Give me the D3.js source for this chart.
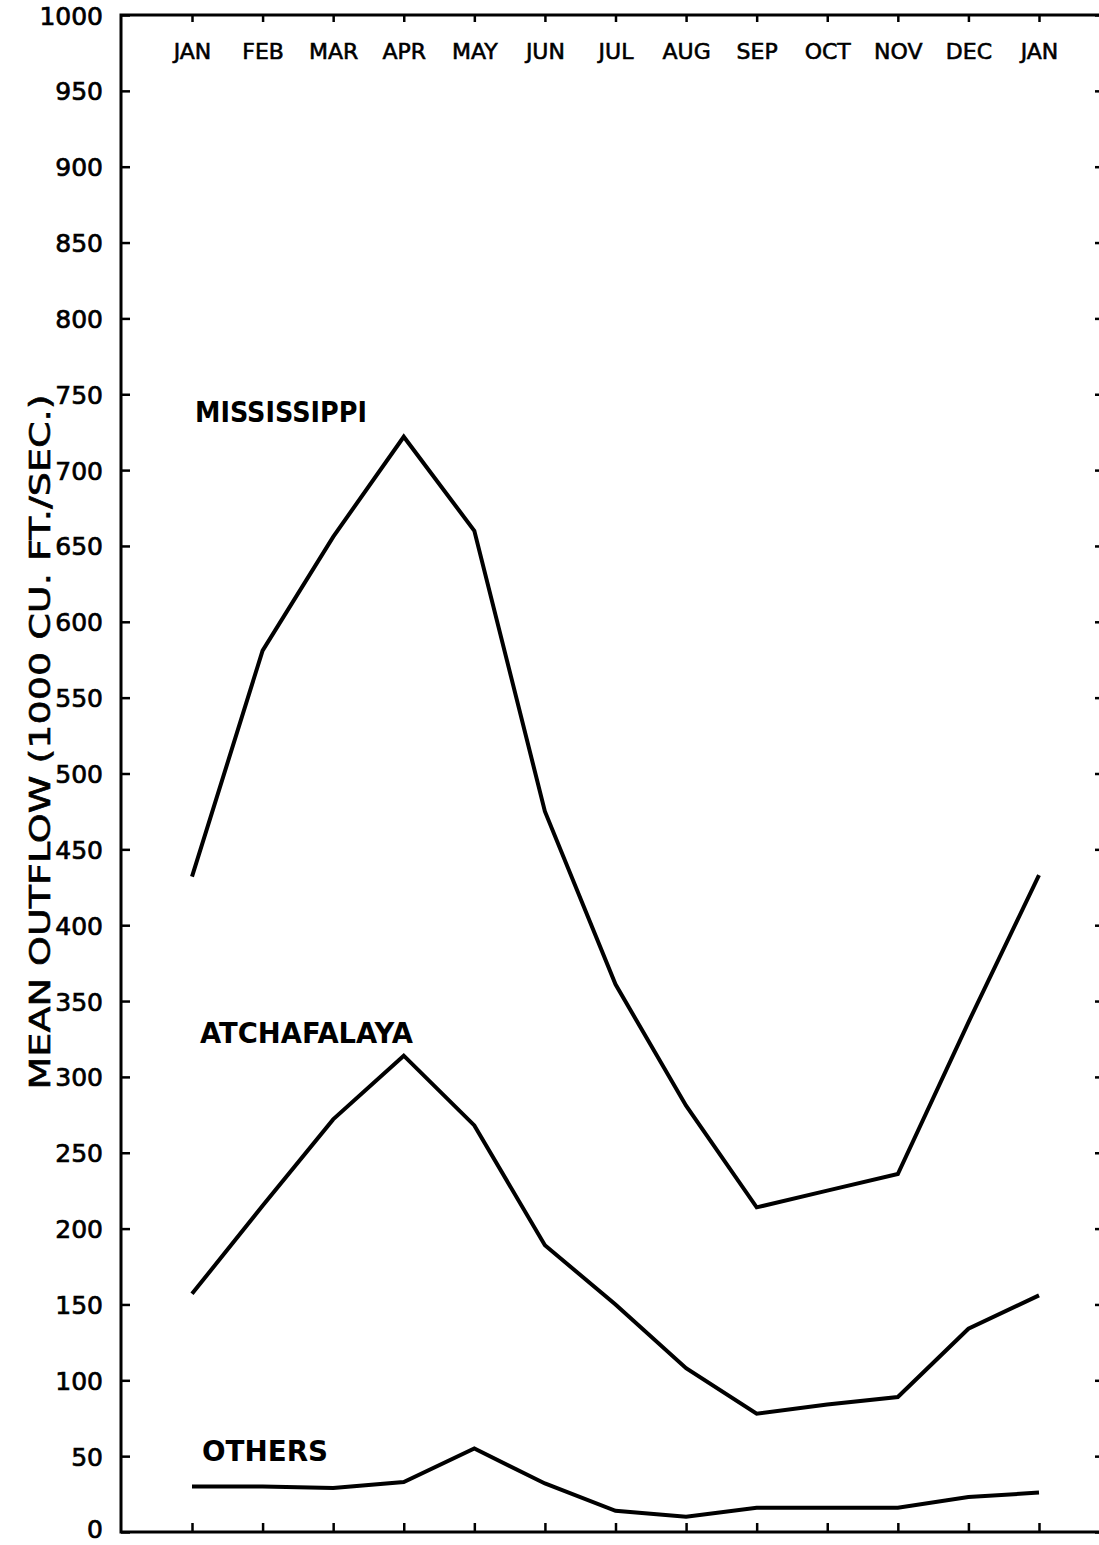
<!DOCTYPE html>
<html>
<head>
<meta charset="utf-8">
<script src="https://cdn.jsdelivr.net/npm/d3@7"></script>
<style>
  body { margin: 0; background: #fff; }
  text { font-family: "DejaVu Sans", sans-serif; fill: #000; }
</style>
</head>
<body>
<div id="chart"></div>
<script>
// month labels along the top (starts and ends on JAN)
var months = ["JAN","FEB","MAR","APR","MAY","JUN","JUL","AUG","SEP","OCT","NOV","DEC","JAN"];

// mean outflow, 1000 cu. ft./sec.
var mississippi = [432, 581, 656, 722, 660, 475, 361, 281, 214, 225, 236, 336, 433];
var atchafalaya = [157, 215, 272, 314, 268, 189, 150, 108, 78, 84, 89, 134, 156];
var others      = [30, 30, 29, 33, 55, 32, 14, 10, 16, 16, 16, 23, 26];

var yTicks = d3.range(0, 1001, 50);

var seriesNames = ["MISSISSIPPI", "ATCHAFALAYA", "OTHERS"];

// frame of the plot (named so they don't clash with window.top)
var W = 1099, H = 1545;
var frame = {left: 121, right: 1100, top: 15, bottom: 1532};

var svg = d3.select("#chart")
    .append("svg")
    .attr("width", W)
    .attr("height", H);

// x: month index, y: outflow
var x = d3.scaleLinear()
    .domain([0, months.length - 1])
    .range([192, 1039]);

var y = d3.scaleLinear()
    .domain([0, 1000])
    .range([frame.bottom, frame.top]);

// frame lines (right side sits just off the picture)
svg.append("path")
    .attr("d", "M" + frame.right + "," + frame.top + "H" + frame.left + "V" + frame.bottom + "H" + frame.right)
    .attr("fill", "none")
    .attr("stroke", "#000")
    .attr("stroke-width", 3);

// left axis, ticks pointing inward
var yAxisG = svg.append("g")
    .attr("transform", "translate(" + frame.left + ",0)")
    .call(d3.axisLeft(y).tickValues(yTicks).tickSizeInner(-9).tickSizeOuter(0).tickPadding(18)
        .tickFormat(d3.format("d")));
yAxisG.select(".domain").remove();
yAxisG.selectAll("line").attr("stroke-width", 2.5);
yAxisG.selectAll("text")
    .attr("font-size", 25)
    .attr("font-family", "DejaVu Sans")
    .attr("stroke", "#000")
    .attr("stroke-width", 0.7)
    .attr("dy", d => d === 0 ? "0.2em" : "0.36em");   // keep the 0 inside the page

// right axis, ticks only
var rAxisG = svg.append("g")
    .attr("transform", "translate(" + frame.right + ",0)")
    .call(d3.axisLeft(y).tickValues(yTicks).tickSizeInner(5).tickSizeOuter(0).tickFormat(""));
rAxisG.select(".domain").remove();
rAxisG.selectAll("line").attr("stroke-width", 2.5);

// top axis with month names inside the frame
var topAxisG = svg.append("g")
    .attr("transform", "translate(0," + frame.top + ")")
    .call(d3.axisBottom(x).tickValues(d3.range(months.length)).tickSizeInner(7).tickSizeOuter(0)
        .tickPadding(21).tickFormat(i => months[i]));
topAxisG.select(".domain").remove();
topAxisG.selectAll("line").attr("stroke-width", 2.5);
topAxisG.selectAll("text")
    .attr("font-size", 22)
    .attr("font-family", "DejaVu Sans")
    .attr("stroke", "#000")
    .attr("stroke-width", 0.6);

// bottom axis, ticks pointing up
var botAxisG = svg.append("g")
    .attr("transform", "translate(0," + frame.bottom + ")")
    .call(d3.axisBottom(x).tickValues(d3.range(months.length)).tickSizeInner(-9).tickSizeOuter(0).tickFormat(""));
botAxisG.select(".domain").remove();
botAxisG.selectAll("line").attr("stroke-width", 2.5);

// y axis title
svg.append("text")
    .attr("transform", "translate(50,742) rotate(-90)")
    .attr("text-anchor", "middle")
    .attr("font-size", 28)
    .attr("stroke", "#000")
    .attr("stroke-width", 0.6)
    .attr("textLength", 695)
    .attr("lengthAdjust", "spacingAndGlyphs")
    .text("MEAN OUTFLOW (1000 CU. FT./SEC.)");

// the three series
var line = d3.line()
    .x((d, i) => x(i))
    .y(d => y(d));

[mississippi, atchafalaya, others].forEach(function(s) {
    svg.append("path")
        .datum(s)
        .attr("fill", "none")
        .attr("stroke", "#000")
        .attr("stroke-width", 4)
        .attr("stroke-linejoin", "miter")
        .attr("d", line);
});

// series labels
var labelPos = [
    {x: 195, y: 422, w: 172},
    {x: 200, y: 1043, w: 213},
    {x: 202, y: 1461, w: 126}
];
svg.append("g")
    .selectAll("text")
    .data(seriesNames)
    .join("text")
        .attr("x", (d, i) => labelPos[i].x)
        .attr("y", (d, i) => labelPos[i].y)
        .attr("font-size", 28)
        .attr("font-weight", "bold")
        .attr("textLength", (d, i) => labelPos[i].w)
        .attr("lengthAdjust", "spacingAndGlyphs")
        .text(d => d);
</script>
</body>
</html>
